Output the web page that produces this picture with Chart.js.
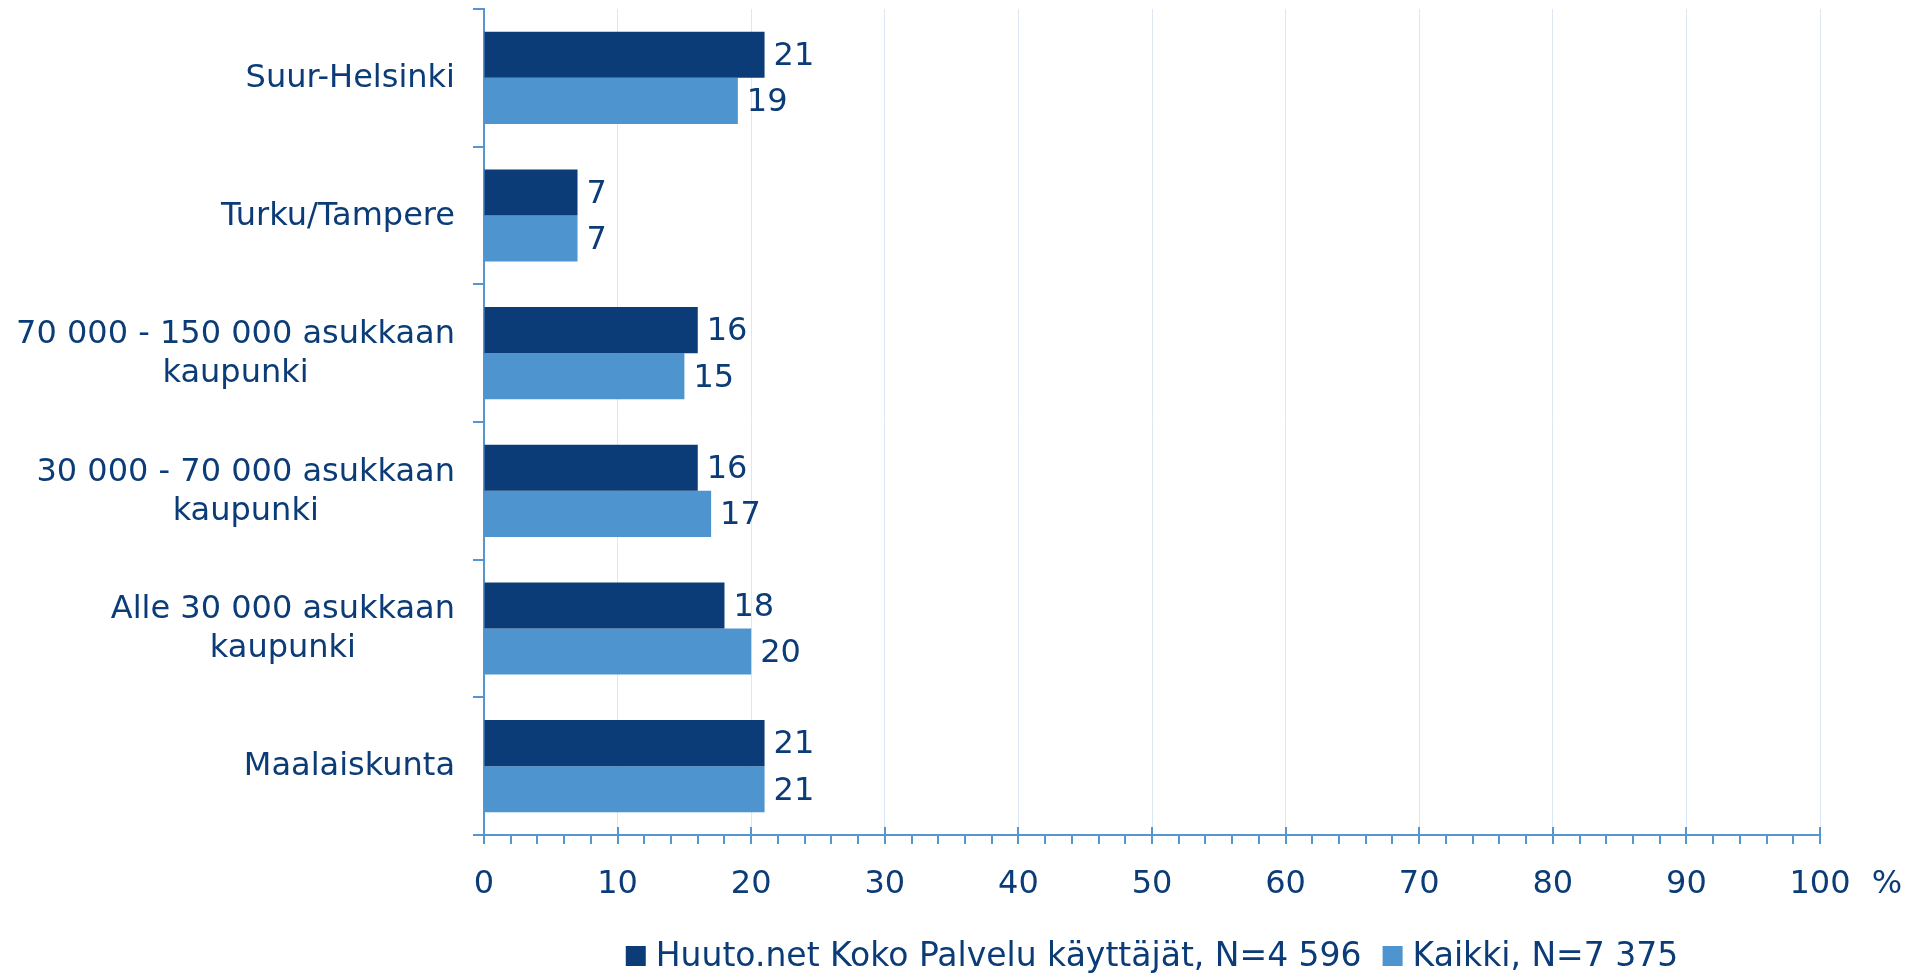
<!DOCTYPE html>
<html>
<head>
<meta charset="utf-8">
<script src="https://cdn.jsdelivr.net/npm/chart.js@4.4.1/dist/chart.umd.min.js"></script>
<style>
  html, body { margin: 0; padding: 0; background: #fff; }
  #wrap { width: 1929px; height: 974px; }
</style>
</head>
<body>
<div id="wrap"><canvas id="chart" width="1929" height="974"></canvas></div>
<script>
// categories (each entry = lines of the label)
const categories = [
    ['Suur-Helsinki'],
    ['Turku/Tampere'],
    ['70 000 - 150 000 asukkaan', 'kaupunki'],
    ['30 000 - 70 000 asukkaan', 'kaupunki'],
    ['Alle 30 000 asukkaan', 'kaupunki'],
    ['Maalaiskunta']
];
const seriesNames = ['Huuto.net Koko Palvelu käyttäjät, N=4 596', 'Kaikki, N=7 375'];
const huutoValues = [21, 7, 16, 16, 18, 21];
const kaikkiValues = [19, 7, 15, 17, 20, 21];
const xMin = 0;
const xMax = 100;
const xStep = 10;
const xMinorStep = 2;
const xUnit = '%';

const NAVY = '#0b3c77';
const LIGHT = '#4e94ce';
const AXIS = '#5595d0';
const GRID = '#dbe7f3';
const FONT = '"DejaVu Sans", Verdana, sans-serif';

// draws category labels, value labels, minor ticks, unit and legend
const extrasPlugin = {
    id: 'extras',
    afterDatasetsDraw(chart) {
        const ctx = chart.ctx;
        ctx.save();
        ctx.font = '32px ' + FONT;
        ctx.fillStyle = NAVY;
        ctx.textAlign = 'left';
        ctx.textBaseline = 'middle';
        chart.data.datasets.forEach((ds, i) => {
            const meta = chart.getDatasetMeta(i);
            meta.data.forEach((bar, j) => {
                ctx.fillText(String(ds.data[j]), bar.x + 9, bar.y + 2);
            });
        });
        ctx.restore();
    },
    afterDraw(chart) {
        const ctx = chart.ctx;
        const x = chart.scales.x;
        const y = chart.scales.y;
        const area = chart.chartArea;
        ctx.save();

        // category labels: block right aligned, lines centered
        ctx.font = '32px ' + FONT;
        ctx.fillStyle = NAVY;
        ctx.textBaseline = 'middle';
        ctx.textAlign = 'center';
        const lineH = 39;
        const rightEdge = area.left - 29;
        categories.forEach((lines, i) => {
            const cy = y.getPixelForValue(i);
            const w = Math.max(...lines.map(l => ctx.measureText(l).width));
            const cx = rightEdge - w / 2;
            lines.forEach((l, k) => {
                ctx.fillText(l, cx, cy + (k - (lines.length - 1) / 2) * lineH + 1);
            });
        });

        // x-axis tick marks
        ctx.strokeStyle = AXIS;
        ctx.lineWidth = 2;
        const base = area.bottom;
        for (let v = xMin; v <= xMax; v += xMinorStep) {
            const px = Math.round(x.getPixelForValue(v));
            const major = v % xStep === 0;
            ctx.beginPath();
            ctx.moveTo(px, major ? base - 8 : base);
            ctx.lineTo(px, base + 9);
            ctx.stroke();
        }

        // unit
        ctx.fillStyle = NAVY;
        ctx.textAlign = 'center';
        ctx.fillText(xUnit, 1887, 885);

        // legend
        ctx.font = '33px ' + FONT;
        const colors = [NAVY, LIGHT];
        const box = 20, gap = 10, spacing = 21;
        const widths = seriesNames.map(n => ctx.measureText(n).width);
        const total = widths.reduce((a, w) => a + box + gap + w, 0) + spacing * (seriesNames.length - 1);
        let lx = (area.left + area.right) / 2 - total / 2;
        const ly = 956;
        ctx.textAlign = 'left';
        seriesNames.forEach((n, i) => {
            ctx.fillStyle = colors[i];
            ctx.fillRect(lx, ly - box / 2, box, box);
            ctx.fillStyle = NAVY;
            ctx.fillText(n, lx + box + gap, ly + 1);
            lx += box + gap + widths[i] + spacing;
        });
        ctx.restore();
    }
};

const ctx = document.getElementById('chart').getContext('2d');
new Chart(ctx, {
    type: 'bar',
    data: {
        labels: categories,
        datasets: [
            {
                label: seriesNames[0],
                data: huutoValues,
                backgroundColor: NAVY,
                categoryPercentage: 0.67,
                barPercentage: 1.0,
            },
            {
                label: seriesNames[1],
                data: kaikkiValues,
                backgroundColor: LIGHT,
                categoryPercentage: 0.67,
                barPercentage: 1.0,
            }
        ]
    },
    options: {
        indexAxis: 'y',
        responsive: false,
        animation: false,
        devicePixelRatio: 1,
        layout: { padding: { top: 9, right: 109, left: 0, bottom: 0 } },
        plugins: {
            legend: { display: false },
            tooltip: { enabled: false },
        },
        scales: {
            x: {
                min: xMin,
                max: xMax,
                afterFit(scale) { scale.height = 974 - 835; },
                border: { display: true, color: AXIS, width: 2 },
                grid: { color: GRID, lineWidth: 1, drawTicks: false },
                ticks: {
                    stepSize: xStep,
                    color: NAVY,
                    font: { family: FONT, size: 32 },
                    padding: 30,
                    maxRotation: 0,
                },
            },
            y: {
                afterFit(scale) { scale.width = 484; },
                border: { display: true, color: AXIS, width: 2 },
                grid: {
                    offset: true,
                    drawOnChartArea: false,
                    drawTicks: true,
                    tickLength: 11,
                    color: AXIS,
                    lineWidth: 2,
                },
                ticks: { display: false },
            }
        }
    },
    plugins: [extrasPlugin]
});
</script>
</body>
</html>
